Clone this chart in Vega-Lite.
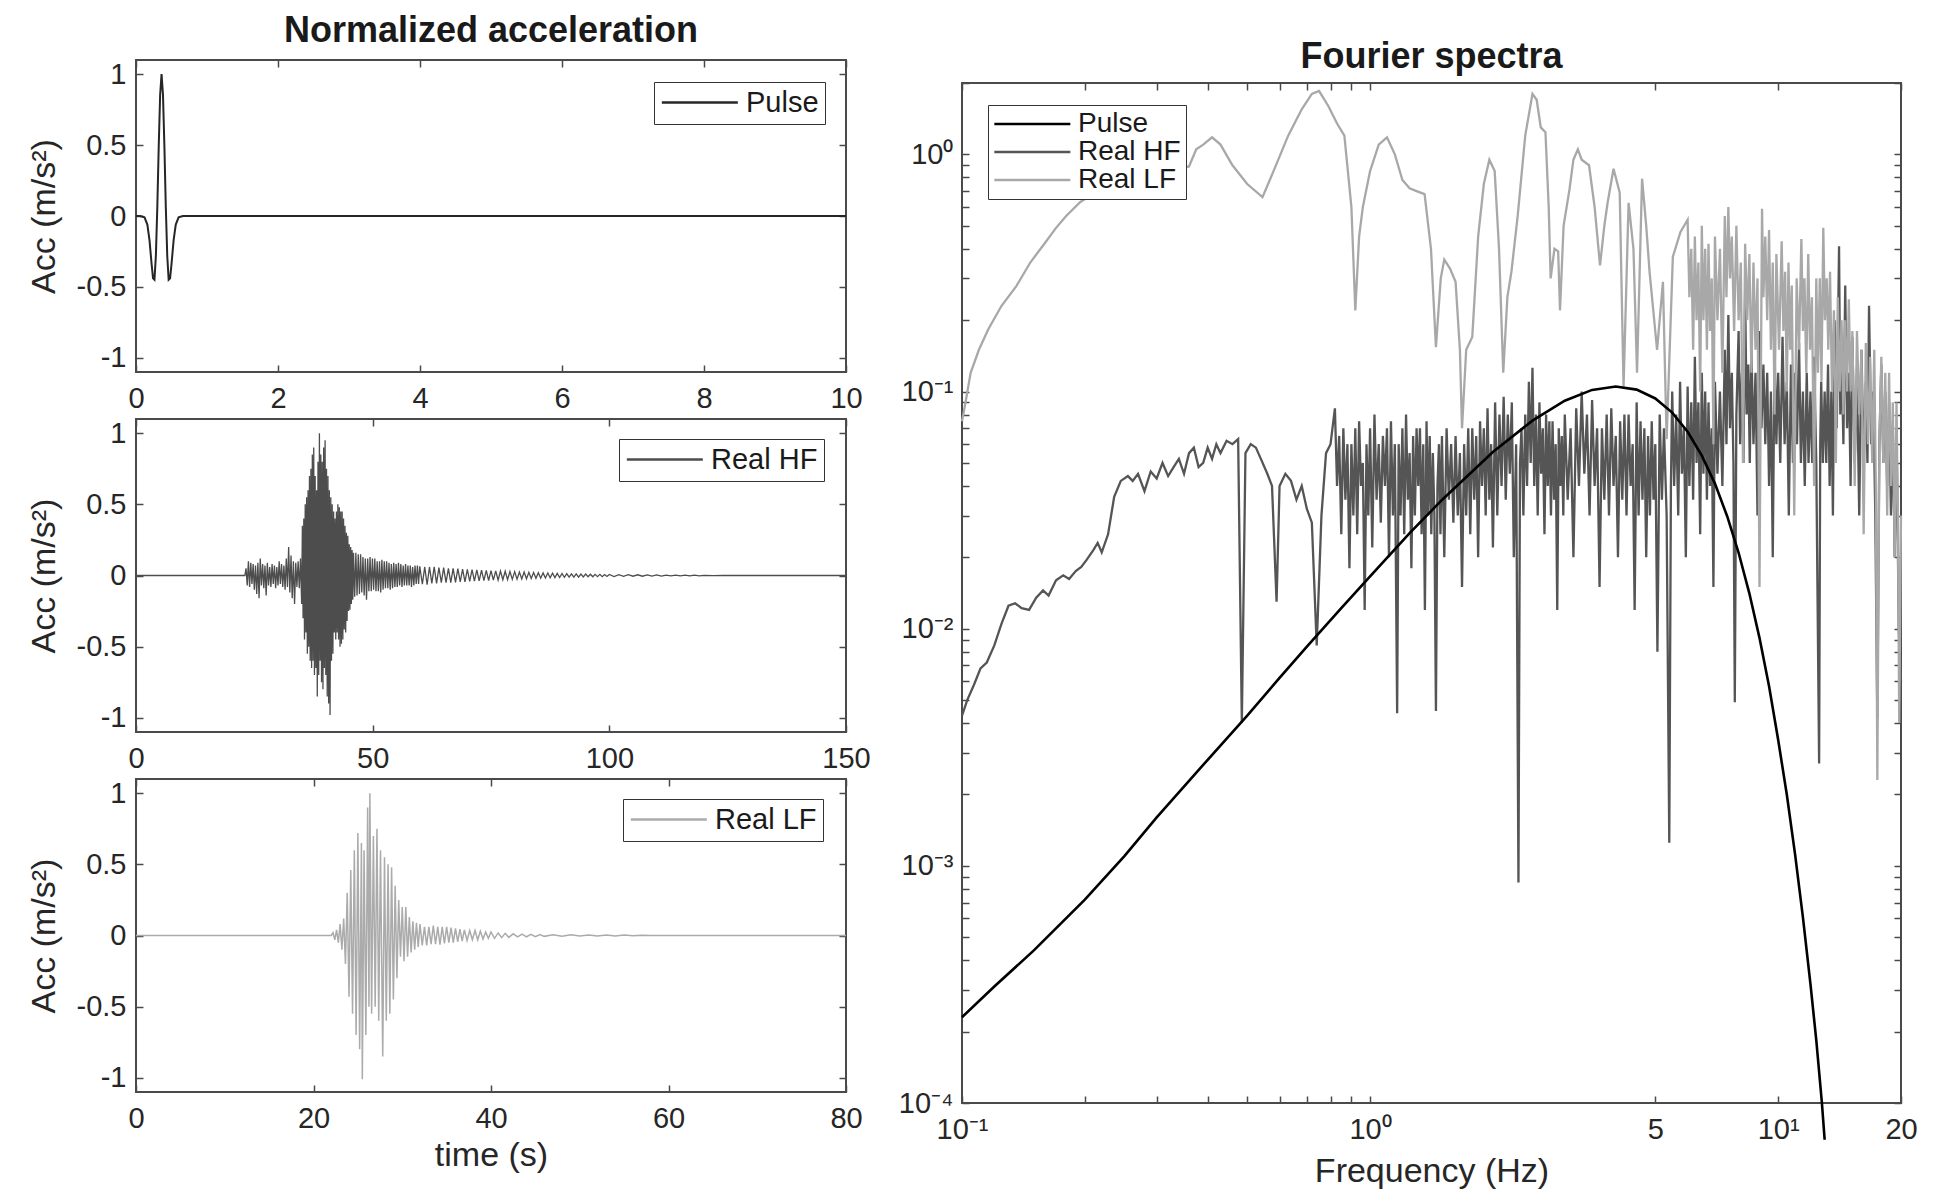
{
"$schema":"https://vega.github.io/schema/vega-lite/v6.json",
"autosize":{"type":"pad"},
"padding":{"left":26,"top":12,"right":0,"bottom":0},
"background":"white",
"config":{
 "font":"Liberation Sans",
 "view":{"stroke":"#4a4a4a","strokeWidth":2},
 "axis":{"domain":false,"grid":false,"ticks":true,"tickSize":-7,"tickColor":"#4a4a4a","tickWidth":1.5,"labelFontSize":29,"labelColor":"#262626","labelPadding":19,"labelOverlap":false,"labelFlush":false,"titleFontSize":34,"titleFontWeight":"normal","titleColor":"#262626"},
 "legend":{"orient":"none","symbolType":"M-1,0H5","symbolSize":642,"symbolStrokeWidth":2.4,"labelFontSize":29,"labelColor":"#1a1a1a","labelOffset":57,"padding":6,"strokeColor":"#333333","fillColor":"#ffffff","rowPadding":0,"labelLimit":400},
 "title":{"fontSize":36,"fontWeight":"bold","color":"#1a1a1a","anchor":"middle","frame":"group","baseline":"alphabetic"},
 "line":{"clip":true}
},
"datasets":{
"pt":[{"t":0,"a":0},{"t":0.06,"a":0},{"t":0.12,"a":-0.01},{"t":0.16,"a":-0.06},{"t":0.19,"a":-0.17},{"t":0.22,"a":-0.34},{"t":0.24,"a":-0.44},{"t":0.26,"a":-0.45},{"t":0.28,"a":-0.28},{"t":0.30,"a":0.06},{"t":0.32,"a":0.49},{"t":0.34,"a":0.855},{"t":0.36,"a":1},{"t":0.38,"a":0.855},{"t":0.40,"a":0.49},{"t":0.42,"a":0.06},{"t":0.44,"a":-0.28},{"t":0.46,"a":-0.45},{"t":0.48,"a":-0.44},{"t":0.50,"a":-0.34},{"t":0.53,"a":-0.17},{"t":0.56,"a":-0.06},{"t":0.60,"a":-0.01},{"t":0.66,"a":0},{"t":10,"a":0}],
"ht":[{"t":0,"a":0},{"t":23,"a":0},{"t":23.25,"a":0.05},{"t":23.5,"a":-0.07},{"t":23.75,"a":0.1},{"t":24.0,"a":-0.08},{"t":24.25,"a":0.09},{"t":24.5,"a":-0.06},{"t":24.75,"a":0.08},{"t":25.0,"a":-0.1},{"t":25.25,"a":0.07},{"t":25.5,"a":-0.13},{"t":25.75,"a":0.09},{"t":26.0,"a":-0.16},{"t":26.25,"a":0.12},{"t":26.5,"a":-0.07},{"t":26.75,"a":0.08},{"t":27.0,"a":-0.09},{"t":27.25,"a":0.07},{"t":27.5,"a":-0.14},{"t":27.75,"a":0.09},{"t":28.0,"a":-0.07},{"t":28.25,"a":0.06},{"t":28.5,"a":-0.08},{"t":28.75,"a":0.08},{"t":29.0,"a":-0.06},{"t":29.25,"a":0.07},{"t":29.5,"a":-0.09},{"t":29.75,"a":0.06},{"t":30.0,"a":-0.07},{"t":30.25,"a":0.1},{"t":30.5,"a":-0.06},{"t":30.75,"a":0.08},{"t":31.0,"a":-0.08},{"t":31.25,"a":0.07},{"t":31.5,"a":-0.1},{"t":31.75,"a":0.12},{"t":32.0,"a":-0.08},{"t":32.25,"a":0.2},{"t":32.5,"a":-0.12},{"t":32.75,"a":0.14},{"t":33.0,"a":-0.16},{"t":33.25,"a":0.1},{"t":33.5,"a":-0.2},{"t":33.75,"a":0.09},{"t":34.0,"a":-0.08},{"t":34.25,"a":0.1},{"t":34.5,"a":-0.09},{"t":34.75,"a":0.12},{"t":35.0,"a":-0.2},{"t":35.15,"a":0.35},{"t":35.3,"a":-0.3},{"t":35.45,"a":0.4},{"t":35.6,"a":-0.45},{"t":35.75,"a":0.5},{"t":35.9,"a":-0.4},{"t":36.05,"a":0.55},{"t":36.2,"a":-0.55},{"t":36.35,"a":0.6},{"t":36.5,"a":-0.5},{"t":36.65,"a":0.7},{"t":36.8,"a":-0.6},{"t":36.95,"a":0.75},{"t":37.1,"a":-0.65},{"t":37.25,"a":0.85},{"t":37.4,"a":-0.6},{"t":37.55,"a":0.9},{"t":37.7,"a":-0.7},{"t":37.85,"a":0.7},{"t":38.0,"a":-0.65},{"t":38.15,"a":0.6},{"t":38.3,"a":-0.85},{"t":38.45,"a":0.8},{"t":38.6,"a":-0.7},{"t":38.75,"a":1.0},{"t":38.9,"a":-0.6},{"t":39.05,"a":0.85},{"t":39.2,"a":-0.75},{"t":39.35,"a":0.8},{"t":39.5,"a":-0.8},{"t":39.65,"a":0.9},{"t":39.8,"a":-0.65},{"t":39.95,"a":0.95},{"t":40.1,"a":-0.7},{"t":40.25,"a":0.75},{"t":40.4,"a":-0.85},{"t":40.55,"a":0.7},{"t":40.7,"a":-0.9},{"t":40.85,"a":0.6},{"t":41.0,"a":-0.98},{"t":41.15,"a":0.55},{"t":41.3,"a":-0.6},{"t":41.45,"a":0.5},{"t":41.6,"a":-0.55},{"t":41.75,"a":0.45},{"t":41.9,"a":-0.4},{"t":42.05,"a":0.4},{"t":42.2,"a":-0.45},{"t":42.35,"a":0.45},{"t":42.5,"a":-0.4},{"t":42.65,"a":0.5},{"t":42.8,"a":-0.45},{"t":42.95,"a":0.48},{"t":43.1,"a":-0.5},{"t":43.25,"a":0.45},{"t":43.4,"a":-0.48},{"t":43.55,"a":0.45},{"t":43.7,"a":-0.45},{"t":43.85,"a":0.4},{"t":44.0,"a":-0.38},{"t":44.15,"a":0.35},{"t":44.3,"a":-0.4},{"t":44.45,"a":0.3},{"t":44.6,"a":-0.32},{"t":44.75,"a":0.28},{"t":44.9,"a":-0.25},{"t":45.05,"a":0.22},{"t":45.2,"a":-0.24},{"t":45.35,"a":0.2},{"t":45.5,"a":-0.2},{"t":45.65,"a":0.18},{"t":45.8,"a":-0.17},{"t":45.95,"a":0.16},{"t":46.2,"a":-0.15},{"t":46.45,"a":0.16},{"t":46.7,"a":-0.14},{"t":46.95,"a":0.15},{"t":47.2,"a":-0.13},{"t":47.45,"a":0.15},{"t":47.7,"a":-0.12},{"t":47.95,"a":0.13},{"t":48.2,"a":-0.14},{"t":48.45,"a":0.12},{"t":48.7,"a":-0.17},{"t":48.95,"a":0.12},{"t":49.2,"a":-0.11},{"t":49.45,"a":0.13},{"t":49.7,"a":-0.11},{"t":49.95,"a":0.12},{"t":50.2,"a":-0.1},{"t":50.45,"a":0.12},{"t":50.7,"a":-0.11},{"t":50.95,"a":0.1},{"t":51.2,"a":-0.11},{"t":51.45,"a":0.1},{"t":51.7,"a":-0.12},{"t":51.95,"a":0.11},{"t":52.2,"a":-0.1},{"t":52.45,"a":0.1},{"t":52.7,"a":-0.09},{"t":52.95,"a":0.1},{"t":53.2,"a":-0.09},{"t":53.45,"a":0.09},{"t":53.7,"a":-0.1},{"t":53.95,"a":0.08},{"t":54.2,"a":-0.09},{"t":54.45,"a":0.09},{"t":54.7,"a":-0.08},{"t":54.95,"a":0.08},{"t":55.2,"a":-0.08},{"t":55.45,"a":0.09},{"t":55.7,"a":-0.07},{"t":55.95,"a":0.08},{"t":56.2,"a":-0.08},{"t":56.45,"a":0.07},{"t":56.7,"a":-0.07},{"t":56.95,"a":0.08},{"t":57.2,"a":-0.07},{"t":57.45,"a":0.07},{"t":57.7,"a":-0.07},{"t":57.95,"a":0.07},{"t":58.2,"a":-0.08},{"t":58.45,"a":0.06},{"t":58.7,"a":-0.07},{"t":58.95,"a":0.07},{"t":59.2,"a":-0.06},{"t":59.45,"a":0.07},{"t":59.7,"a":-0.06},{"t":59.95,"a":0.065},{"t":60.5,"a":-0.06},{"t":61.0,"a":0.06},{"t":61.5,"a":-0.065},{"t":62.0,"a":0.06},{"t":62.5,"a":-0.055},{"t":63.0,"a":0.06},{"t":63.5,"a":-0.055},{"t":64.0,"a":0.055},{"t":64.5,"a":-0.05},{"t":65.0,"a":0.055},{"t":65.5,"a":-0.05},{"t":66.0,"a":0.05},{"t":66.5,"a":-0.05},{"t":67.0,"a":0.05},{"t":67.5,"a":-0.048},{"t":68.0,"a":0.048},{"t":68.5,"a":-0.045},{"t":69.0,"a":0.045},{"t":69.5,"a":-0.045},{"t":70.0,"a":0.043},{"t":70.5,"a":-0.042},{"t":71.0,"a":0.042},{"t":71.5,"a":-0.04},{"t":72.0,"a":0.04},{"t":72.5,"a":-0.038},{"t":73.0,"a":0.038},{"t":73.5,"a":-0.036},{"t":74.0,"a":0.036},{"t":74.5,"a":-0.035},{"t":75.0,"a":0.034},{"t":75.5,"a":-0.033},{"t":76.0,"a":0.033},{"t":76.5,"a":-0.032},{"t":77.0,"a":0.031},{"t":77.5,"a":-0.03},{"t":78.0,"a":0.03},{"t":78.5,"a":-0.029},{"t":79.0,"a":0.028},{"t":79.5,"a":-0.027},{"t":80.0,"a":0.027},{"t":80.5,"a":-0.026},{"t":81.0,"a":0.025},{"t":81.5,"a":-0.024},{"t":82.0,"a":0.024},{"t":82.5,"a":-0.023},{"t":83.0,"a":0.022},{"t":83.5,"a":-0.021},{"t":84.0,"a":0.021},{"t":84.5,"a":-0.02},{"t":85.0,"a":0.02},{"t":85.5,"a":-0.019},{"t":86.0,"a":0.018},{"t":86.5,"a":-0.018},{"t":87.0,"a":0.017},{"t":87.5,"a":-0.016},{"t":88.0,"a":0.016},{"t":88.5,"a":-0.015},{"t":89.0,"a":0.015},{"t":89.5,"a":-0.014},{"t":90.0,"a":0.014},{"t":90.5,"a":-0.013},{"t":91.0,"a":0.013},{"t":91.5,"a":-0.012},{"t":92.0,"a":0.012},{"t":92.5,"a":-0.012},{"t":93.0,"a":0.011},{"t":93.5,"a":-0.011},{"t":94.0,"a":0.01},{"t":94.5,"a":-0.01},{"t":95.0,"a":0.01},{"t":95.5,"a":-0.009},{"t":96.0,"a":0.009},{"t":96.5,"a":-0.009},{"t":97.0,"a":0.008},{"t":97.5,"a":-0.008},{"t":98.0,"a":0.008},{"t":98.5,"a":-0.008},{"t":99.0,"a":0.007},{"t":99.5,"a":-0.007},{"t":100.0,"a":0.007},{"t":101,"a":-0.007},{"t":102,"a":0.006},{"t":103,"a":-0.006},{"t":104,"a":0.006},{"t":105,"a":-0.005},{"t":106,"a":0.005},{"t":107,"a":-0.005},{"t":108,"a":0.004},{"t":109,"a":-0.004},{"t":110,"a":0.004},{"t":111,"a":-0.004},{"t":112,"a":0.003},{"t":113,"a":-0.003},{"t":114,"a":0.003},{"t":115,"a":-0.003},{"t":116,"a":0.002},{"t":117,"a":-0.002},{"t":118,"a":0.002},{"t":119,"a":-0.002},{"t":120,"a":0.001},{"t":122,"a":-0.001},{"t":124,"a":0},{"t":150,"a":0}],
"lt":[{"t":0,"a":0},{"t":22,"a":0},{"t":22.2,"a":0.02},{"t":22.4,"a":-0.03},{"t":22.6,"a":0.04},{"t":22.8,"a":-0.05},{"t":23.0,"a":0.08},{"t":23.2,"a":-0.1},{"t":23.4,"a":0.12},{"t":23.6,"a":-0.2},{"t":23.8,"a":0.3},{"t":24.0,"a":-0.43},{"t":24.2,"a":0.46},{"t":24.4,"a":-0.55},{"t":24.6,"a":0.6},{"t":24.8,"a":-0.7},{"t":25.0,"a":0.72},{"t":25.2,"a":-0.8},{"t":25.4,"a":0.65},{"t":25.5,"a":-1.01},{"t":25.7,"a":0.6},{"t":25.9,"a":-0.7},{"t":26.1,"a":0.9},{"t":26.25,"a":-0.5},{"t":26.35,"a":1.0},{"t":26.55,"a":-0.55},{"t":26.75,"a":0.7},{"t":26.95,"a":-0.5},{"t":27.15,"a":0.75},{"t":27.35,"a":-0.6},{"t":27.55,"a":0.6},{"t":27.8,"a":-0.85},{"t":28.0,"a":0.55},{"t":28.2,"a":-0.6},{"t":28.4,"a":0.5},{"t":28.6,"a":-0.55},{"t":28.8,"a":0.48},{"t":29.0,"a":-0.45},{"t":29.2,"a":0.35},{"t":29.4,"a":-0.3},{"t":29.6,"a":0.25},{"t":29.8,"a":-0.15},{"t":30.0,"a":0.2},{"t":30.2,"a":-0.18},{"t":30.4,"a":0.2},{"t":30.6,"a":-0.15},{"t":30.8,"a":0.13},{"t":31.0,"a":-0.12},{"t":31.2,"a":0.1},{"t":31.4,"a":-0.1},{"t":31.6,"a":0.09},{"t":31.8,"a":-0.08},{"t":32.0,"a":0.08},{"t":32.25,"a":-0.07},{"t":32.5,"a":0.06},{"t":32.75,"a":-0.07},{"t":33.0,"a":0.06},{"t":33.25,"a":-0.06},{"t":33.5,"a":0.07},{"t":33.75,"a":-0.06},{"t":34.0,"a":0.06},{"t":34.25,"a":-0.065},{"t":34.5,"a":0.06},{"t":34.75,"a":-0.055},{"t":35.0,"a":0.06},{"t":35.25,"a":-0.05},{"t":35.5,"a":0.055},{"t":35.75,"a":-0.05},{"t":36.0,"a":0.05},{"t":36.25,"a":-0.045},{"t":36.5,"a":0.045},{"t":36.75,"a":-0.04},{"t":37.0,"a":0.04},{"t":37.3,"a":-0.035},{"t":37.6,"a":0.035},{"t":37.9,"a":-0.03},{"t":38.2,"a":0.035},{"t":38.5,"a":-0.03},{"t":38.8,"a":0.03},{"t":39.1,"a":-0.025},{"t":39.4,"a":0.025},{"t":39.7,"a":-0.02},{"t":40.0,"a":0.025},{"t":40.4,"a":-0.02},{"t":40.8,"a":0.018},{"t":41.2,"a":-0.015},{"t":41.6,"a":0.015},{"t":42.0,"a":-0.013},{"t":42.5,"a":0.012},{"t":43.0,"a":-0.01},{"t":43.5,"a":0.01},{"t":44.0,"a":-0.009},{"t":44.5,"a":0.008},{"t":45.0,"a":-0.008},{"t":45.5,"a":0.007},{"t":46.0,"a":-0.006},{"t":47.0,"a":0.006},{"t":48.0,"a":-0.005},{"t":49.0,"a":0.005},{"t":50.0,"a":-0.004},{"t":51.0,"a":0.004},{"t":52.0,"a":-0.003},{"t":53.0,"a":0.003},{"t":54.0,"a":-0.003},{"t":55.0,"a":0.003},{"t":56.0,"a":-0.002},{"t":57.0,"a":0.002},{"t":58.0,"a":0},{"t":80,"a":0}],
"ps":[{"f":0.1,"v":0.00023},{"f":0.12,"v":0.00031},{"f":0.15,"v":0.00044},{"f":0.2,"v":0.00072},{"f":0.25,"v":0.0011},{"f":0.3,"v":0.0016},{"f":0.4,"v":0.0028},{"f":0.5,"v":0.0043},{"f":0.6,"v":0.0062},{"f":0.7,"v":0.0084},{"f":0.85,"v":0.0122},{"f":1,"v":0.0166},{"f":1.25,"v":0.0253},{"f":1.5,"v":0.0349},{"f":2,"v":0.0556},{"f":2.5,"v":0.0754},{"f":3,"v":0.0915},{"f":3.5,"v":0.1016},{"f":4,"v":0.105},{"f":4.5,"v":0.1019},{"f":5,"v":0.0935},{"f":5.5,"v":0.0815},{"f":6,"v":0.0677},{"f":6.5,"v":0.0537},{"f":7,"v":0.0409},{"f":7.5,"v":0.0298},{"f":8,"v":0.0209},{"f":8.5,"v":0.0141},{"f":9,"v":0.00915},{"f":9.5,"v":0.00572},{"f":10,"v":0.0034},{"f":10.5,"v":0.002},{"f":11,"v":0.00112},{"f":11.5,"v":0.000606},{"f":12,"v":0.000317},{"f":12.4,"v":0.000184},{"f":12.8,"v":0.0001},{"f":13,"v":0.00007}],
"hs":[{"f":0.1,"v":0.0043},{"f":0.103,"v":0.005},{"f":0.107,"v":0.0058},{"f":0.111,"v":0.0068},{"f":0.115,"v":0.0072},{"f":0.12,"v":0.0085},{"f":0.125,"v":0.0105},{"f":0.13,"v":0.0125},{"f":0.135,"v":0.0128},{"f":0.14,"v":0.0122},{"f":0.146,"v":0.012},{"f":0.152,"v":0.0135},{"f":0.158,"v":0.0145},{"f":0.163,"v":0.0138},{"f":0.17,"v":0.016},{"f":0.177,"v":0.0168},{"f":0.183,"v":0.0162},{"f":0.19,"v":0.0175},{"f":0.196,"v":0.0182},{"f":0.202,"v":0.0195},{"f":0.21,"v":0.0215},{"f":0.215,"v":0.023},{"f":0.22,"v":0.021},{"f":0.228,"v":0.025},{"f":0.236,"v":0.036},{"f":0.245,"v":0.042},{"f":0.255,"v":0.044},{"f":0.262,"v":0.042},{"f":0.27,"v":0.045},{"f":0.28,"v":0.038},{"f":0.29,"v":0.046},{"f":0.3,"v":0.043},{"f":0.31,"v":0.05},{"f":0.32,"v":0.044},{"f":0.33,"v":0.048},{"f":0.34,"v":0.052},{"f":0.35,"v":0.045},{"f":0.36,"v":0.055},{"f":0.37,"v":0.058},{"f":0.38,"v":0.048},{"f":0.39,"v":0.05},{"f":0.4,"v":0.058},{"f":0.41,"v":0.052},{"f":0.42,"v":0.06},{"f":0.43,"v":0.055},{"f":0.445,"v":0.062},{"f":0.46,"v":0.06},{"f":0.475,"v":0.063},{"f":0.485,"v":0.004},{"f":0.495,"v":0.055},{"f":0.51,"v":0.06},{"f":0.525,"v":0.058},{"f":0.54,"v":0.052},{"f":0.56,"v":0.045},{"f":0.575,"v":0.04},{"f":0.59,"v":0.013},{"f":0.6,"v":0.04},{"f":0.62,"v":0.045},{"f":0.64,"v":0.042},{"f":0.66,"v":0.035},{"f":0.68,"v":0.04},{"f":0.7,"v":0.032},{"f":0.72,"v":0.028},{"f":0.74,"v":0.0085},{"f":0.76,"v":0.03},{"f":0.78,"v":0.055},{"f":0.8,"v":0.06},{"f":0.82,"v":0.085},{"f":0.83,"v":0.04},{"f":0.84,"v":0.065},{"f":0.85,"v":0.025},{"f":0.86,"v":0.07},{"f":0.87,"v":0.035},{"f":0.88,"v":0.06},{"f":0.89,"v":0.018},{"f":0.9,"v":0.06},{"f":0.91,"v":0.03},{"f":0.92,"v":0.07},{"f":0.93,"v":0.025},{"f":0.94,"v":0.075},{"f":0.95,"v":0.04},{"f":0.96,"v":0.05},{"f":0.97,"v":0.012},{"f":0.98,"v":0.06},{"f":0.99,"v":0.03},{"f":1.0,"v":0.07},{"f":1.0125,"v":0.022},{"f":1.025,"v":0.08},{"f":1.0375,"v":0.035},{"f":1.05,"v":0.06},{"f":1.0625,"v":0.028},{"f":1.075,"v":0.065},{"f":1.0875,"v":0.04},{"f":1.1,"v":0.07},{"f":1.1125,"v":0.02},{"f":1.125,"v":0.075},{"f":1.1375,"v":0.03},{"f":1.15,"v":0.06},{"f":1.165,"v":0.0044},{"f":1.175,"v":0.06},{"f":1.1875,"v":0.03},{"f":1.2,"v":0.07},{"f":1.2125,"v":0.025},{"f":1.225,"v":0.08},{"f":1.2375,"v":0.035},{"f":1.25,"v":0.055},{"f":1.2625,"v":0.018},{"f":1.275,"v":0.065},{"f":1.2875,"v":0.03},{"f":1.3,"v":0.07},{"f":1.3125,"v":0.04},{"f":1.325,"v":0.07},{"f":1.3375,"v":0.025},{"f":1.35,"v":0.06},{"f":1.3625,"v":0.012},{"f":1.375,"v":0.075},{"f":1.3875,"v":0.03},{"f":1.4,"v":0.065},{"f":1.4125,"v":0.025},{"f":1.425,"v":0.055},{"f":1.4375,"v":0.03},{"f":1.45,"v":0.0045},{"f":1.4625,"v":0.04},{"f":1.475,"v":0.06},{"f":1.4875,"v":0.025},{"f":1.5,"v":0.065},{"f":1.52,"v":0.02},{"f":1.54,"v":0.07},{"f":1.56,"v":0.035},{"f":1.58,"v":0.06},{"f":1.6,"v":0.028},{"f":1.62,"v":0.065},{"f":1.64,"v":0.03},{"f":1.66,"v":0.055},{"f":1.68,"v":0.015},{"f":1.7,"v":0.06},{"f":1.72,"v":0.03},{"f":1.74,"v":0.07},{"f":1.76,"v":0.025},{"f":1.78,"v":0.07},{"f":1.8,"v":0.035},{"f":1.82,"v":0.065},{"f":1.84,"v":0.02},{"f":1.86,"v":0.075},{"f":1.88,"v":0.04},{"f":1.9,"v":0.07},{"f":1.92,"v":0.03},{"f":1.94,"v":0.085},{"f":1.96,"v":0.035},{"f":1.98,"v":0.06},{"f":2.0,"v":0.022},{"f":2.025,"v":0.09},{"f":2.05,"v":0.03},{"f":2.075,"v":0.08},{"f":2.1,"v":0.04},{"f":2.125,"v":0.095},{"f":2.15,"v":0.035},{"f":2.175,"v":0.08},{"f":2.2,"v":0.045},{"f":2.225,"v":0.09},{"f":2.25,"v":0.02},{"f":2.28,"v":0.06},{"f":2.31,"v":0.00085},{"f":2.33,"v":0.05},{"f":2.35,"v":0.07},{"f":2.375,"v":0.03},{"f":2.4,"v":0.08},{"f":2.425,"v":0.04},{"f":2.45,"v":0.11},{"f":2.475,"v":0.05},{"f":2.5,"v":0.126},{"f":2.525,"v":0.04},{"f":2.55,"v":0.08},{"f":2.575,"v":0.03},{"f":2.6,"v":0.09},{"f":2.625,"v":0.045},{"f":2.65,"v":0.07},{"f":2.675,"v":0.025},{"f":2.7,"v":0.08},{"f":2.725,"v":0.04},{"f":2.75,"v":0.075},{"f":2.775,"v":0.03},{"f":2.8,"v":0.075},{"f":2.825,"v":0.035},{"f":2.85,"v":0.06},{"f":2.875,"v":0.012},{"f":2.9,"v":0.07},{"f":2.925,"v":0.04},{"f":2.95,"v":0.065},{"f":2.975,"v":0.03},{"f":3.0,"v":0.08},{"f":3.05,"v":0.035},{"f":3.1,"v":0.07},{"f":3.15,"v":0.02},{"f":3.2,"v":0.085},{"f":3.25,"v":0.04},{"f":3.3,"v":0.1},{"f":3.35,"v":0.045},{"f":3.4,"v":0.08},{"f":3.45,"v":0.03},{"f":3.5,"v":0.092},{"f":3.55,"v":0.04},{"f":3.6,"v":0.07},{"f":3.65,"v":0.015},{"f":3.7,"v":0.07},{"f":3.75,"v":0.035},{"f":3.8,"v":0.08},{"f":3.85,"v":0.03},{"f":3.9,"v":0.085},{"f":3.95,"v":0.04},{"f":4.0,"v":0.065},{"f":4.05,"v":0.02},{"f":4.1,"v":0.075},{"f":4.15,"v":0.035},{"f":4.2,"v":0.08},{"f":4.25,"v":0.03},{"f":4.3,"v":0.08},{"f":4.35,"v":0.04},{"f":4.4,"v":0.06},{"f":4.45,"v":0.012},{"f":4.5,"v":0.09},{"f":4.55,"v":0.03},{"f":4.6,"v":0.075},{"f":4.65,"v":0.035},{"f":4.7,"v":0.07},{"f":4.75,"v":0.02},{"f":4.8,"v":0.065},{"f":4.85,"v":0.03},{"f":4.9,"v":0.075},{"f":4.95,"v":0.035},{"f":5.0,"v":0.06},{"f":5.06,"v":0.008},{"f":5.125,"v":0.08},{"f":5.19,"v":0.035},{"f":5.25,"v":0.07},{"f":5.33,"v":0.03},{"f":5.41,"v":0.00125},{"f":5.46,"v":0.04},{"f":5.5,"v":0.1},{"f":5.56,"v":0.04},{"f":5.625,"v":0.08},{"f":5.69,"v":0.03},{"f":5.75,"v":0.11},{"f":5.81,"v":0.045},{"f":5.875,"v":0.07},{"f":5.94,"v":0.02},{"f":6.0,"v":0.105},{"f":6.06,"v":0.04},{"f":6.125,"v":0.09},{"f":6.19,"v":0.035},{"f":6.25,"v":0.14},{"f":6.31,"v":0.05},{"f":6.375,"v":0.09},{"f":6.44,"v":0.025},{"f":6.5,"v":0.12},{"f":6.56,"v":0.045},{"f":6.625,"v":0.1},{"f":6.69,"v":0.035},{"f":6.75,"v":0.09},{"f":6.81,"v":0.04},{"f":6.875,"v":0.07},{"f":6.94,"v":0.015},{"f":7.0,"v":0.11},{"f":7.1,"v":0.045},{"f":7.2,"v":0.1},{"f":7.3,"v":0.04},{"f":7.4,"v":0.15},{"f":7.47,"v":0.06},{"f":7.55,"v":0.21},{"f":7.62,"v":0.07},{"f":7.7,"v":0.12},{"f":7.77,"v":0.05},{"f":7.83,"v":0.0049},{"f":7.9,"v":0.08},{"f":8.0,"v":0.18},{"f":8.07,"v":0.06},{"f":8.15,"v":0.12},{"f":8.22,"v":0.05},{"f":8.3,"v":0.26},{"f":8.37,"v":0.08},{"f":8.45,"v":0.13},{"f":8.52,"v":0.05},{"f":8.6,"v":0.15},{"f":8.7,"v":0.06},{"f":8.8,"v":0.12},{"f":8.9,"v":0.03},{"f":9.0,"v":0.18},{"f":9.1,"v":0.07},{"f":9.2,"v":0.13},{"f":9.3,"v":0.06},{"f":9.4,"v":0.12},{"f":9.5,"v":0.04},{"f":9.6,"v":0.1},{"f":9.7,"v":0.02},{"f":9.8,"v":0.15},{"f":9.9,"v":0.06},{"f":10.0,"v":0.12},{"f":10.12,"v":0.05},{"f":10.25,"v":0.17},{"f":10.37,"v":0.06},{"f":10.5,"v":0.11},{"f":10.62,"v":0.03},{"f":10.75,"v":0.13},{"f":10.87,"v":0.05},{"f":11.0,"v":0.12},{"f":11.12,"v":0.06},{"f":11.25,"v":0.16},{"f":11.37,"v":0.05},{"f":11.5,"v":0.1},{"f":11.62,"v":0.04},{"f":11.75,"v":0.12},{"f":11.87,"v":0.05},{"f":12.0,"v":0.1},{"f":12.12,"v":0.05},{"f":12.25,"v":0.14},{"f":12.4,"v":0.05},{"f":12.6,"v":0.0027},{"f":12.68,"v":0.06},{"f":12.75,"v":0.11},{"f":12.87,"v":0.05},{"f":13.0,"v":0.1},{"f":13.12,"v":0.05},{"f":13.25,"v":0.13},{"f":13.37,"v":0.04},{"f":13.5,"v":0.1},{"f":13.62,"v":0.03},{"f":13.75,"v":0.2},{"f":13.92,"v":0.07},{"f":14.1,"v":0.41},{"f":14.2,"v":0.08},{"f":14.3,"v":0.15},{"f":14.45,"v":0.06},{"f":14.6,"v":0.28},{"f":14.75,"v":0.07},{"f":14.9,"v":0.12},{"f":15.05,"v":0.04},{"f":15.2,"v":0.17},{"f":15.4,"v":0.05},{"f":15.6,"v":0.12},{"f":15.8,"v":0.03},{"f":16.0,"v":0.15},{"f":16.2,"v":0.05},{"f":16.4,"v":0.11},{"f":16.55,"v":0.05},{"f":16.7,"v":0.23},{"f":16.9,"v":0.06},{"f":17.1,"v":0.1},{"f":17.3,"v":0.03},{"f":17.5,"v":0.0042},{"f":17.7,"v":0.06},{"f":17.9,"v":0.13},{"f":18.1,"v":0.05},{"f":18.3,"v":0.1},{"f":18.5,"v":0.04},{"f":18.7,"v":0.09},{"f":18.9,"v":0.03},{"f":19.1,"v":0.07},{"f":19.3,"v":0.02},{"f":19.5,"v":0.07},{"f":19.75,"v":0.01},{"f":20.0,"v":0.006}],
"ls":[{"f":0.1,"v":0.075},{"f":0.102,"v":0.09},{"f":0.105,"v":0.12},{"f":0.11,"v":0.15},{"f":0.116,"v":0.183},{"f":0.125,"v":0.23},{"f":0.136,"v":0.279},{"f":0.147,"v":0.35},{"f":0.16,"v":0.425},{"f":0.17,"v":0.49},{"f":0.18,"v":0.55},{"f":0.195,"v":0.63},{"f":0.215,"v":0.7},{"f":0.24,"v":0.76},{"f":0.27,"v":0.8},{"f":0.3,"v":0.83},{"f":0.33,"v":0.86},{"f":0.36,"v":0.89},{"f":0.375,"v":1.05},{"f":0.39,"v":1.1},{"f":0.41,"v":1.18},{"f":0.43,"v":1.1},{"f":0.46,"v":0.9},{"f":0.5,"v":0.75},{"f":0.545,"v":0.66},{"f":0.58,"v":0.85},{"f":0.63,"v":1.2},{"f":0.68,"v":1.55},{"f":0.72,"v":1.8},{"f":0.75,"v":1.85},{"f":0.79,"v":1.6},{"f":0.83,"v":1.35},{"f":0.865,"v":1.2},{"f":0.9,"v":0.6},{"f":0.92,"v":0.22},{"f":0.94,"v":0.45},{"f":0.96,"v":0.6},{"f":1.0,"v":0.85},{"f":1.05,"v":1.1},{"f":1.1,"v":1.18},{"f":1.15,"v":1.0},{"f":1.2,"v":0.78},{"f":1.25,"v":0.72},{"f":1.3,"v":0.7},{"f":1.36,"v":0.68},{"f":1.41,"v":0.4},{"f":1.45,"v":0.154},{"f":1.49,"v":0.3},{"f":1.52,"v":0.36},{"f":1.57,"v":0.33},{"f":1.62,"v":0.29},{"f":1.66,"v":0.15},{"f":1.68,"v":0.07},{"f":1.72,"v":0.15},{"f":1.78,"v":0.17},{"f":1.84,"v":0.45},{"f":1.9,"v":0.75},{"f":1.96,"v":0.95},{"f":2.02,"v":0.85},{"f":2.07,"v":0.4},{"f":2.12,"v":0.12},{"f":2.17,"v":0.25},{"f":2.22,"v":0.32},{"f":2.3,"v":0.55},{"f":2.4,"v":1.2},{"f":2.5,"v":1.8},{"f":2.56,"v":1.7},{"f":2.62,"v":1.3},{"f":2.69,"v":1.24},{"f":2.74,"v":0.6},{"f":2.77,"v":0.3},{"f":2.83,"v":0.4},{"f":2.89,"v":0.39},{"f":2.92,"v":0.22},{"f":2.98,"v":0.5},{"f":3.08,"v":0.71},{"f":3.15,"v":0.95},{"f":3.23,"v":1.05},{"f":3.3,"v":0.95},{"f":3.44,"v":0.9},{"f":3.55,"v":0.6},{"f":3.66,"v":0.34},{"f":3.75,"v":0.5},{"f":3.82,"v":0.625},{"f":3.95,"v":0.87},{"f":4.09,"v":0.69},{"f":4.18,"v":0.105},{"f":4.3,"v":0.625},{"f":4.42,"v":0.4},{"f":4.51,"v":0.12},{"f":4.64,"v":0.79},{"f":4.75,"v":0.5},{"f":4.84,"v":0.32},{"f":5.05,"v":0.15},{"f":5.22,"v":0.29},{"f":5.33,"v":0.063},{"f":5.52,"v":0.37},{"f":5.76,"v":0.47},{"f":6.0,"v":0.53},{"f":6.06,"v":0.25},{"f":6.125,"v":0.4},{"f":6.19,"v":0.15},{"f":6.25,"v":0.45},{"f":6.31,"v":0.2},{"f":6.375,"v":0.35},{"f":6.44,"v":0.1},{"f":6.5,"v":0.5},{"f":6.56,"v":0.2},{"f":6.625,"v":0.4},{"f":6.69,"v":0.15},{"f":6.75,"v":0.42},{"f":6.81,"v":0.18},{"f":6.875,"v":0.3},{"f":6.94,"v":0.06},{"f":7.0,"v":0.45},{"f":7.1,"v":0.2},{"f":7.2,"v":0.4},{"f":7.3,"v":0.12},{"f":7.4,"v":0.55},{"f":7.47,"v":0.25},{"f":7.55,"v":0.6},{"f":7.62,"v":0.3},{"f":7.7,"v":0.45},{"f":7.8,"v":0.18},{"f":7.9,"v":0.5},{"f":8.0,"v":0.2},{"f":8.1,"v":0.35},{"f":8.2,"v":0.05},{"f":8.3,"v":0.42},{"f":8.4,"v":0.2},{"f":8.5,"v":0.38},{"f":8.6,"v":0.12},{"f":8.7,"v":0.35},{"f":8.8,"v":0.15},{"f":8.9,"v":0.3},{"f":9.0,"v":0.015},{"f":9.13,"v":0.59},{"f":9.2,"v":0.25},{"f":9.3,"v":0.45},{"f":9.4,"v":0.2},{"f":9.5,"v":0.48},{"f":9.6,"v":0.15},{"f":9.7,"v":0.35},{"f":9.8,"v":0.08},{"f":9.9,"v":0.38},{"f":10.05,"v":0.15},{"f":10.2,"v":0.43},{"f":10.3,"v":0.18},{"f":10.4,"v":0.32},{"f":10.5,"v":0.1},{"f":10.6,"v":0.35},{"f":10.7,"v":0.15},{"f":10.8,"v":0.28},{"f":10.95,"v":0.03},{"f":11.1,"v":0.3},{"f":11.25,"v":0.15},{"f":11.4,"v":0.44},{"f":11.5,"v":0.18},{"f":11.6,"v":0.3},{"f":11.72,"v":0.12},{"f":11.85,"v":0.38},{"f":11.97,"v":0.15},{"f":12.1,"v":0.25},{"f":12.25,"v":0.04},{"f":12.4,"v":0.3},{"f":12.52,"v":0.12},{"f":12.65,"v":0.3},{"f":12.77,"v":0.11},{"f":12.9,"v":0.49},{"f":13.02,"v":0.2},{"f":13.15,"v":0.3},{"f":13.27,"v":0.15},{"f":13.4,"v":0.32},{"f":13.55,"v":0.1},{"f":13.7,"v":0.22},{"f":13.85,"v":0.05},{"f":14.0,"v":0.25},{"f":14.15,"v":0.1},{"f":14.3,"v":0.2},{"f":14.45,"v":0.08},{"f":14.6,"v":0.2},{"f":14.75,"v":0.1},{"f":14.9,"v":0.245},{"f":15.05,"v":0.1},{"f":15.2,"v":0.18},{"f":15.4,"v":0.04},{"f":15.6,"v":0.18},{"f":15.8,"v":0.08},{"f":16.0,"v":0.15},{"f":16.2,"v":0.025},{"f":16.4,"v":0.16},{"f":16.6,"v":0.06},{"f":16.8,"v":0.14},{"f":17.0,"v":0.05},{"f":17.2,"v":0.15},{"f":17.35,"v":0.04},{"f":17.5,"v":0.0023},{"f":17.7,"v":0.06},{"f":17.9,"v":0.14},{"f":18.1,"v":0.05},{"f":18.3,"v":0.12},{"f":18.5,"v":0.03},{"f":18.7,"v":0.12},{"f":18.9,"v":0.04},{"f":19.1,"v":0.09},{"f":19.3,"v":0.02},{"f":19.5,"v":0.09},{"f":19.65,"v":0.03},{"f":19.8,"v":0.004},{"f":20.0,"v":0.03}]
},
"hconcat":[
 {"vconcat":[
  {"width":710,"height":312,
   "title":{"text":"Normalized acceleration","offset":9},
   "data":{"name":"pt"},
   "layer":[
    {"mark":{"type":"line","strokeWidth":2},
     "encoding":{
      "x":{"field":"t","type":"quantitative","scale":{"domain":[0,10],"nice":false,"zero":false},"axis":{"values":[0,2,4,6,8,10],"title":null}},
      "y":{"field":"a","type":"quantitative","scale":{"domain":[-1.1,1.1],"nice":false,"zero":false},"axis":{"values":[-1,-0.5,0,0.5,1],"labelExpr":"datum.value+''","title":"Acc (m/s²)","titlePadding":15,"labelPadding":17}},
      "color":{"datum":"Pulse","type":"nominal","scale":{"domain":["Pulse"],"range":["#262626"]},"legend":{"title":null,"legendX":518,"legendY":22}}}},
    {"mark":{"type":"point","opacity":0},
     "encoding":{
      "x":{"field":"t","type":"quantitative","scale":{"domain":[0,10],"nice":false,"zero":false},"axis":{"orient":"top","values":[0,2,4,6,8,10],"labels":false,"title":null}},
      "y":{"field":"a","type":"quantitative","scale":{"domain":[-1.1,1.1],"nice":false,"zero":false},"axis":{"orient":"right","values":[-1,-0.5,0,0.5,1],"labels":false,"title":null}}}}
   ],
   "resolve":{"axis":{"x":"independent","y":"independent"}}
  },
  {"width":710,"height":313,
   "data":{"name":"ht"},
   "layer":[
    {"mark":{"type":"line","strokeWidth":1.3},
     "encoding":{
      "x":{"field":"t","type":"quantitative","scale":{"domain":[0,150],"nice":false,"zero":false},"axis":{"values":[0,50,100,150],"title":null}},
      "y":{"field":"a","type":"quantitative","scale":{"domain":[-1.1,1.1],"nice":false,"zero":false},"axis":{"values":[-1,-0.5,0,0.5,1],"labelExpr":"datum.value+''","title":"Acc (m/s²)","titlePadding":15,"labelPadding":17}},
      "color":{"datum":"Real HF","type":"nominal","scale":{"domain":["Real HF"],"range":["#4d4d4d"]},"legend":{"title":null,"legendX":483,"legendY":20}}}},
    {"mark":{"type":"point","opacity":0},
     "encoding":{
      "x":{"field":"t","type":"quantitative","scale":{"domain":[0,150],"nice":false,"zero":false},"axis":{"orient":"top","values":[0,50,100,150],"labels":false,"title":null}},
      "y":{"field":"a","type":"quantitative","scale":{"domain":[-1.1,1.1],"nice":false,"zero":false},"axis":{"orient":"right","values":[-1,-0.5,0,0.5,1],"labels":false,"title":null}}}}
   ],
   "resolve":{"axis":{"x":"independent","y":"independent"}}
  },
  {"width":710,"height":313,
   "data":{"name":"lt"},
   "layer":[
    {"mark":{"type":"line","strokeWidth":1.5},
     "encoding":{
      "x":{"field":"t","type":"quantitative","scale":{"domain":[0,80],"nice":false,"zero":false},"axis":{"values":[0,20,40,60,80],"title":"time (s)","titlePadding":5}},
      "y":{"field":"a","type":"quantitative","scale":{"domain":[-1.1,1.1],"nice":false,"zero":false},"axis":{"values":[-1,-0.5,0,0.5,1],"labelExpr":"datum.value+''","title":"Acc (m/s²)","titlePadding":15,"labelPadding":17}},
      "color":{"datum":"Real LF","type":"nominal","scale":{"domain":["Real LF"],"range":["#ababab"]},"legend":{"title":null,"legendX":487,"legendY":20}}}},
    {"mark":{"type":"point","opacity":0},
     "encoding":{
      "x":{"field":"t","type":"quantitative","scale":{"domain":[0,80],"nice":false,"zero":false},"axis":{"orient":"top","values":[0,20,40,60,80],"labels":false,"title":null}},
      "y":{"field":"a","type":"quantitative","scale":{"domain":[-1.1,1.1],"nice":false,"zero":false},"axis":{"orient":"right","values":[-1,-0.5,0,0.5,1],"labels":false,"title":null}}}}
   ],
   "resolve":{"axis":{"x":"independent","y":"independent"}}
  }
 ],
 "spacing":47,"bounds":"flush",
 "resolve":{"scale":{"x":"independent","y":"independent","color":"independent"},"axis":{"x":"independent","y":"independent"},"legend":{"color":"independent"}}
 },
 {"vconcat":[
  {"width":939,"height":1,"data":{"values":[{"z":1}]},"mark":{"type":"point","opacity":0},"view":{"stroke":null}},
  {"width":939,"height":1020,
   "title":{"text":"Fourier spectra","offset":-7},
   "layer":[
    {"encoding":{
      "x":{"field":"f","type":"quantitative","scale":{"type":"log","domain":[0.1,20],"nice":false},"axis":{"values":[0.1,0.2,0.3,0.4,0.5,0.6,0.7,0.8,0.9,1,5,10,20],"labelExpr":"datum.value==0.1?'10⁻¹':datum.value==1?'10⁰':datum.value==5?'5':datum.value==10?'10¹':datum.value==20?'20':''","title":"Frequency (Hz)","titlePadding":10}},
      "y":{"field":"v","type":"quantitative","scale":{"type":"log","domain":[0.0001,2],"nice":false},"axis":{"values":[0.0001,0.0002,0.0003,0.0004,0.0005,0.0006,0.0007,0.0008,0.0009,0.001,0.002,0.003,0.004,0.005,0.006,0.007,0.008,0.009,0.01,0.02,0.03,0.04,0.05,0.06,0.07,0.08,0.09,0.1,0.2,0.3,0.4,0.5,0.6,0.7,0.8,0.9,1,2],"labelExpr":"datum.value==1?'10⁰':datum.value==0.1?'10⁻¹':datum.value==0.01?'10⁻²':datum.value==0.001?'10⁻³':datum.value==0.0001?'10⁻⁴':''","title":null,"labelPadding":16}}},
     "layer":[
      {"data":{"name":"hs"},"mark":{"type":"line","strokeWidth":2.3},"encoding":{"color":{"datum":"Real HF","type":"nominal","scale":{"domain":["Pulse","Real HF","Real LF"],"range":["#000000","#555555","#a8a8a8"]},"legend":{"title":null,"legendX":26,"legendY":22,"labelFontSize":28,"padding":5}}}},
      {"data":{"name":"ls"},"mark":{"type":"line","strokeWidth":2.3},"encoding":{"color":{"datum":"Real LF","type":"nominal","scale":{"domain":["Pulse","Real HF","Real LF"],"range":["#000000","#555555","#a8a8a8"]},"legend":{"title":null,"legendX":26,"legendY":22,"labelFontSize":28,"padding":5}}}},
      {"data":{"name":"ps"},"mark":{"type":"line","strokeWidth":2.6},"encoding":{"color":{"datum":"Pulse","type":"nominal","scale":{"domain":["Pulse","Real HF","Real LF"],"range":["#000000","#555555","#a8a8a8"]},"legend":{"title":null,"legendX":26,"legendY":22,"labelFontSize":28,"padding":5}}}}
     ]},
    {"data":{"name":"ps"},"mark":{"type":"point","opacity":0},
     "encoding":{
      "x":{"field":"f","type":"quantitative","scale":{"type":"log","domain":[0.1,20],"nice":false},"axis":{"orient":"top","values":[0.1,0.2,0.3,0.4,0.5,0.6,0.7,0.8,0.9,1,5,10,20],"labels":false,"title":null}},
      "y":{"field":"v","type":"quantitative","scale":{"type":"log","domain":[0.0001,2],"nice":false},"axis":{"orient":"right","values":[0.0001,0.0002,0.0003,0.0004,0.0005,0.0006,0.0007,0.0008,0.0009,0.001,0.002,0.003,0.004,0.005,0.006,0.007,0.008,0.009,0.01,0.02,0.03,0.04,0.05,0.06,0.07,0.08,0.09,0.1,0.2,0.3,0.4,0.5,0.6,0.7,0.8,0.9,1,2],"labels":false,"title":null}}}}
   ],
   "resolve":{"axis":{"x":"independent","y":"independent"}}
  }
 ],
 "spacing":22,"bounds":"flush",
 "resolve":{"scale":{"x":"independent","y":"independent","color":"independent"},"axis":{"x":"independent","y":"independent"},"legend":{"color":"independent"}}
 }
],
"spacing":826,
"bounds":"flush",
"resolve":{"scale":{"x":"independent","y":"independent","color":"independent"},"axis":{"x":"independent","y":"independent"},"legend":{"color":"independent"}}
}
